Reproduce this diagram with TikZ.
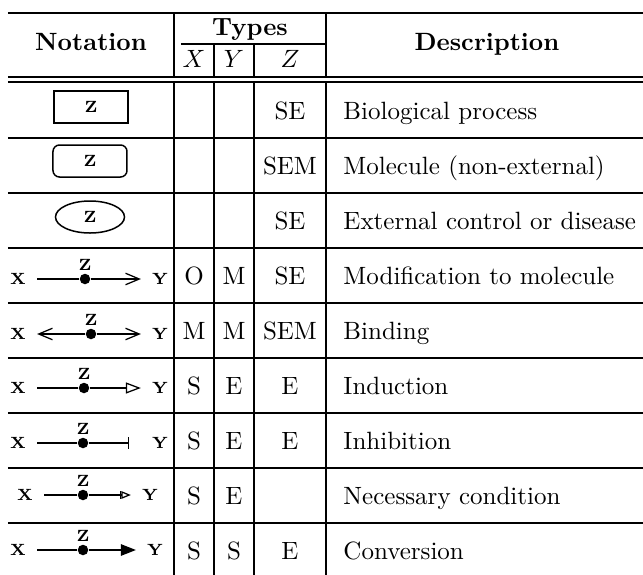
\documentclass[tikz,border=0pt]{standalone}
\usepackage{tikz}
\usetikzlibrary{shapes,arrows.meta}

\begin{document}
\begin{tikzpicture}[x=0.4pt,y=-0.4pt]
\tikzstyle{rule}=[line width=0.7pt]
\tikzstyle{head}=[anchor=base,inner sep=0pt,font=\bfseries]
\tikzstyle{cell}=[anchor=base,inner sep=0pt]
\tikzstyle{desc}=[anchor=base west,inner sep=0pt]
\tikzstyle{lbl}=[inner sep=0pt,outer sep=4.5pt,font=\fontsize{6.5}{7}\selectfont\bfseries]
\tikzstyle{ztag}=[inner sep=1pt,outer sep=0pt,font=\fontsize{6.5}{7}\selectfont\bfseries]
\tikzstyle{dot}=[circle,fill=black,inner sep=0pt,minimum size=4.2pt,label={[ztag]above:Z}]
\tikzstyle{glyph}=[draw,line width=0.6pt,minimum width=29.6pt,minimum height=12.8pt,inner sep=0pt,font=\fontsize{6.5}{7}\selectfont\bfseries]
\tikzstyle{link}=[line width=0.5pt]
\useasboundingbox (0,0) rectangle (643,575);

% table rules
\draw[rule] (8,13) -- (643,13);
\draw[rule] (8,77) -- (643,77);
\draw[rule] (8,82) -- (643,82);
\foreach \y in {138,193,248,303,358,413,468,523}
  \draw[rule] (8,\y) -- (643,\y);
\draw[rule] (181,44) -- (326,44);
\foreach \x/\t in {174/13,214/44,254/44,326/13}
  \draw[rule] (\x,\t) -- (\x,77) (\x,82) -- (\x,575);

% header
\node[head](notation) at (91,50) {Notation};
\node[head](types) at (250,35) {Types};
\node[cell](hx) at (194,67) {$X$};
\node[cell](hy) at (234,67) {$Y$};
\node[cell](hz) at (290,67) {$Z$};
\node[head](description) at (487,50) {Description};

% notation column
\node[glyph,rectangle](process) at (91,107) {Z};
\node[glyph,rectangle,rounded corners=2.6pt](molecule) at (90,161) {Z};
\node[glyph,ellipse,minimum width=27.6pt](external) at (90,217) {Z};

\node[lbl](x4) at (18,279) {X}; \node[dot](z4) at (85,279) {}; \node[lbl](y4) at (160,279) {Y};
\node[lbl](x5) at (18,334) {X}; \node[dot](z5) at (91,334) {}; \node[lbl](y5) at (160,334) {Y};
\node[lbl](x6) at (18,388) {X}; \node[dot](z6) at (84,388) {}; \node[lbl](y6) at (160,388) {Y};
\node[lbl](x7) at (18,443) {X}; \node[dot](z7) at (83,443) {}; \node[lbl](y7) at (160,443) {Y};
\node[lbl](x8) at (25,495) {X}; \node[dot](z8) at (83,495) {}; \node[lbl](y8) at (150,495) {Y};
\node[lbl](x9) at (18,550) {X}; \node[dot](z9) at (83,550) {}; \node[lbl](y9) at (155,550) {Y};

\draw[link,-{Straight Barb[length=5.5pt,width=4.6pt]}] (x4) -- (z4) -- (y4);
\draw[link,-{Straight Barb[length=5.5pt,width=4.6pt]}] (z5) -- (x5);
\draw[link,-{Straight Barb[length=5.5pt,width=4.6pt]}] (z5) -- (y5);
\draw[link,-{Triangle[open,length=6pt,width=4.4pt]}] (x6) -- (z6) -- (y6);
\draw[link,-{Bar[width=4.8pt]},shorten >=4.8pt] (x7) -- (z7) -- (y7);
\draw[link,-{Bar[width=3pt]Triangle[open,length=3.8pt,width=3pt]}] (x8) -- (z8) -- (y8);
\draw[link,-{Triangle[length=6pt,width=4.6pt]}] (x9) -- (z9) -- (y9);

% types
\node[cell](z1) at (290,119) {SE};
\node[cell](z2) at (290,174) {SEM};
\node[cell](z3) at (290,229) {SE};
\node[cell](tx4) at (194,284) {O}; \node[cell](ty4) at (234,284) {M}; \node[cell](tz4) at (290,284) {SE};
\node[cell](tx5) at (194,339) {M}; \node[cell](ty5) at (234,339) {M}; \node[cell](tz5) at (290,339) {SEM};
\node[cell](tx6) at (194,394) {S}; \node[cell](ty6) at (234,394) {E}; \node[cell](tz6) at (290,394) {E};
\node[cell](tx7) at (194,449) {S}; \node[cell](ty7) at (234,449) {E}; \node[cell](tz7) at (290,449) {E};
\node[cell](tx8) at (194,504) {S}; \node[cell](ty8) at (234,504) {E};
\node[cell](tx9) at (194,559) {S}; \node[cell](ty9) at (234,559) {S}; \node[cell](tz9) at (290,559) {E};

% descriptions
\node[desc](d1) at (343,119) {Biological process};
\node[desc](d2) at (343,174) {Molecule (non-external)};
\node[desc](d3) at (343,229) {External control or disease};
\node[desc](d4) at (343,284) {Modification to molecule};
\node[desc](d5) at (343,339) {Binding};
\node[desc](d6) at (343,394) {Induction};
\node[desc](d7) at (343,449) {Inhibition};
\node[desc](d8) at (343,504) {Necessary condition};
\node[desc](d9) at (343,559) {Conversion};
\end{tikzpicture}
\end{document}
